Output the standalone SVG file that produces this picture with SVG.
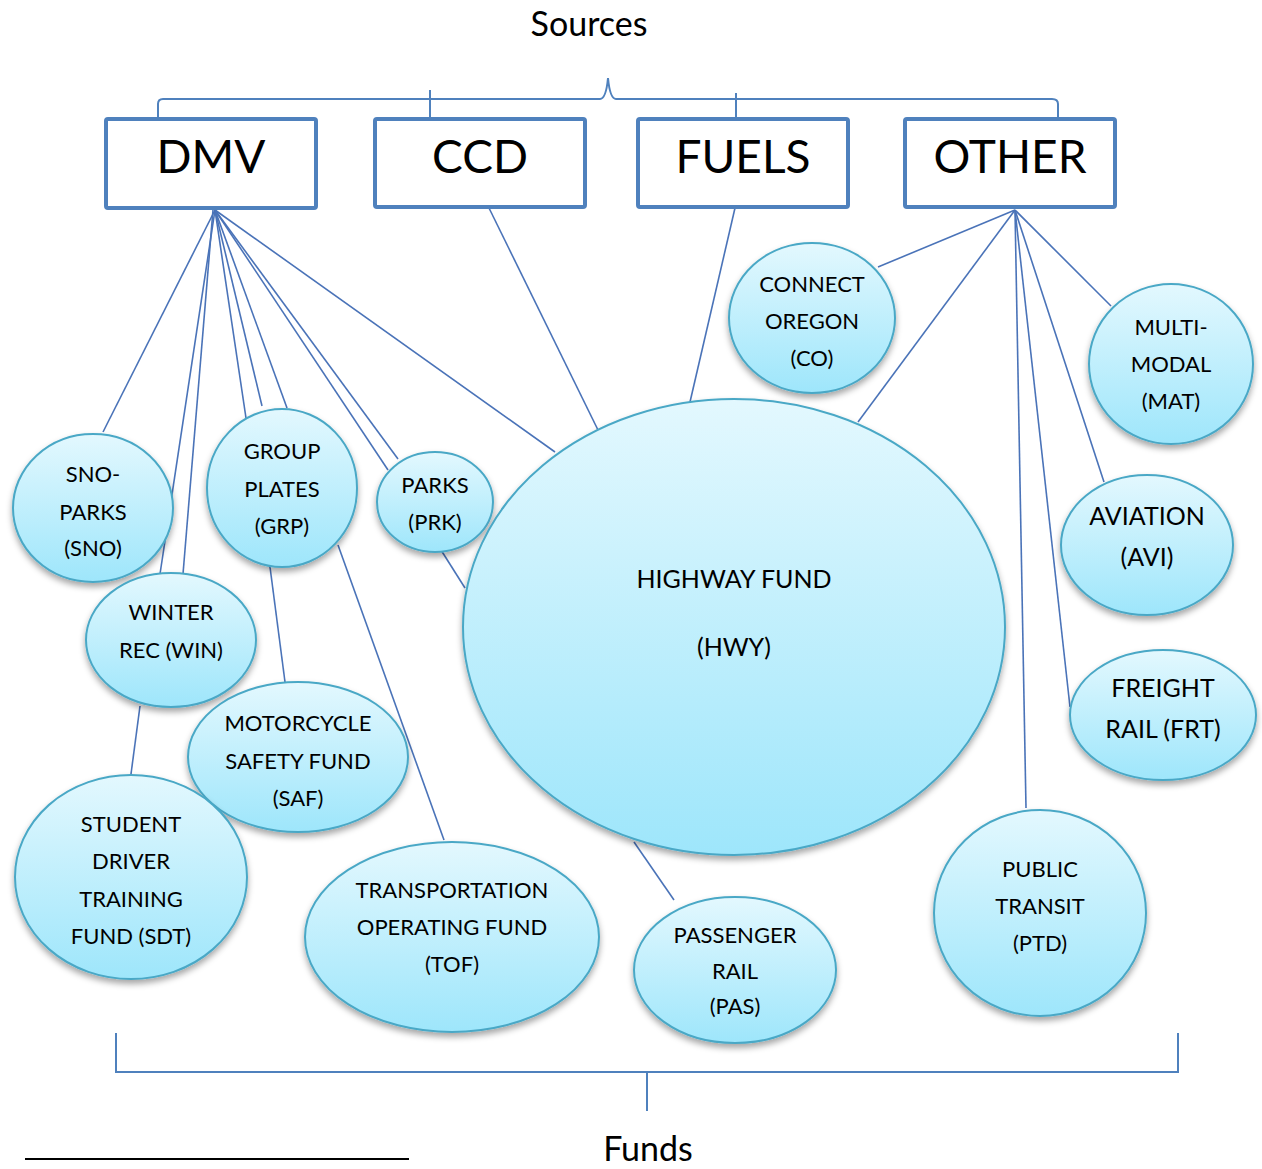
<svg xmlns="http://www.w3.org/2000/svg" width="1262" height="1169" viewBox="0 0 1262 1169">
<style>
text{font-family:Lato,"Open Sans","Liberation Sans",sans-serif;fill:#000;text-anchor:middle}
.t{font-size:22px}
.t2{font-size:25px}
.th{font-size:25px}
.big{font-size:46px}
.lbl{font-size:34px}
.box{fill:#fff;stroke:#4f81bd;stroke-width:4}
.c line{stroke:#4a73b8;stroke-width:1.6}
.br{fill:none;stroke:#4f81bd;stroke-width:2}
.n{fill:url(#g);stroke:#4aa8c6;stroke-width:2;filter:url(#sh)}
</style>
<defs>
<linearGradient id="g" x1="0" y1="0" x2="0" y2="1">
<stop offset="0" stop-color="#e3f8fe"/>
<stop offset="1" stop-color="#9ee6fb"/>
</linearGradient>
<filter id="sh" x="-20%" y="-20%" width="140%" height="150%">
<feDropShadow dx="0" dy="4" stdDeviation="3" flood-color="#000" flood-opacity="0.35"/>
</filter>
</defs>
<rect width="1262" height="1169" fill="#fff"/>
<text class="lbl" x="589" y="36">Sources</text>
<g id="brace-top">
<path class="br" d="M158,118 L158,104 Q158,99 163,99 L600,99 Q606,99 608,78 Q610,99 616,99 L1052,99 Q1058,99 1058,104 L1058,120"/>
<line class="br" x1="430" y1="90" x2="430" y2="118"/>
<line class="br" x1="736" y1="93" x2="736" y2="118"/>
</g>
<g class="c" id="connectors">
<line x1="215" y1="210" x2="103" y2="432"/>
<line x1="215" y1="210" x2="160" y2="574"/>
<line x1="213" y1="210" x2="183" y2="574"/>
<line x1="215" y1="210" x2="246" y2="418"/>
<line x1="215" y1="210" x2="262" y2="406"/>
<line x1="215" y1="210" x2="287" y2="408"/>
<line x1="215" y1="210" x2="388" y2="470"/>
<line x1="215" y1="210" x2="398" y2="459"/>
<line x1="215" y1="210" x2="555" y2="452"/>
<line x1="270" y1="567" x2="285" y2="682"/>
<line x1="338" y1="545" x2="444" y2="840"/>
<line x1="441" y1="550" x2="465" y2="588"/>
<line x1="140" y1="706" x2="131" y2="774"/>
<line x1="489" y1="208" x2="598" y2="430"/>
<line x1="735" y1="208" x2="690" y2="402"/>
<line x1="1015" y1="210" x2="878" y2="267"/>
<line x1="1015" y1="210" x2="858" y2="422"/>
<line x1="1015" y1="210" x2="1111" y2="306"/>
<line x1="1015" y1="210" x2="1104" y2="482"/>
<line x1="1015" y1="210" x2="1026" y2="808"/>
<line x1="1015" y1="210" x2="1070" y2="707"/>
<line x1="634" y1="842" x2="674" y2="900"/>
</g>
<g id="DMV"><rect class="box" x="106" y="119" width="210" height="89" rx="2"/><text class="big" x="211" y="173">DMV</text></g>
<g id="CCD"><rect class="box" x="375" y="119" width="210" height="88" rx="2"/><text class="big" x="480" y="173">CCD</text></g>
<g id="FUELS"><rect class="box" x="638" y="119" width="210" height="88" rx="2"/><text class="big" x="743" y="173">FUELS</text></g>
<g id="OTHER"><rect class="box" x="905" y="119" width="210" height="88" rx="2"/><text class="big" x="1010" y="173">OTHER</text></g>
<g id="SNO"><ellipse class="n" cx="93" cy="508" rx="80" ry="74"/><text class="t" x="93" y="482">SNO-</text><text class="t" x="93" y="520">PARKS</text><text class="t" x="93" y="556">(SNO)</text></g>
<g id="GRP"><ellipse class="n" cx="282" cy="488" rx="75" ry="79"/><text class="t" x="282" y="459">GROUP</text><text class="t" x="282" y="497">PLATES</text><text class="t" x="282" y="534">(GRP)</text></g>
<g id="PRK"><ellipse class="n" cx="435" cy="502" rx="58" ry="50"/><text class="t" x="435" y="493">PARKS</text><text class="t" x="435" y="530">(PRK)</text></g>
<g id="WIN"><ellipse class="n" cx="171" cy="640" rx="85" ry="67"/><text class="t" x="171" y="620">WINTER</text><text class="t" x="171" y="658">REC (WIN)</text></g>
<g id="SAF"><ellipse class="n" cx="298" cy="757" rx="110" ry="75"/><text class="t" x="298" y="731">MOTORCYCLE</text><text class="t" x="298" y="769">SAFETY FUND</text><text class="t" x="298" y="806">(SAF)</text></g>
<g id="SDT"><ellipse class="n" cx="131" cy="877" rx="116" ry="102"/><text class="t" x="131" y="832">STUDENT</text><text class="t" x="131" y="869">DRIVER</text><text class="t" x="131" y="907">TRAINING</text><text class="t" x="131" y="944">FUND (SDT)</text></g>
<g id="TOF"><ellipse class="n" cx="452" cy="937" rx="147" ry="95"/><text class="t" x="452" y="898">TRANSPORTATION</text><text class="t" x="452" y="935">OPERATING FUND</text><text class="t" x="452" y="972">(TOF)</text></g>
<g id="HWY"><ellipse class="n" cx="734" cy="627" rx="271" ry="228"/><text class="th" x="734" y="588">HIGHWAY FUND</text><text class="th" x="734" y="656">(HWY)</text></g>
<g id="PAS"><ellipse class="n" cx="735" cy="970" rx="101" ry="73"/><text class="t" x="735" y="943">PASSENGER</text><text class="t" x="735" y="979">RAIL</text><text class="t" x="735" y="1014">(PAS)</text></g>
<g id="CO"><ellipse class="n" cx="812" cy="318" rx="83" ry="75"/><text class="t" x="812" y="292">CONNECT</text><text class="t" x="812" y="329">OREGON</text><text class="t" x="812" y="366">(CO)</text></g>
<g id="MAT"><ellipse class="n" cx="1171" cy="364" rx="82" ry="80"/><text class="t" x="1171" y="335">MULTI-</text><text class="t" x="1171" y="372">MODAL</text><text class="t" x="1171" y="409">(MAT)</text></g>
<g id="AVI"><ellipse class="n" cx="1147" cy="545" rx="86" ry="70"/><text class="t2" x="1147" y="525">AVIATION</text><text class="t2" x="1147" y="566">(AVI)</text></g>
<g id="FRT"><ellipse class="n" cx="1163" cy="715" rx="93" ry="65"/><text class="t2" x="1163" y="697">FREIGHT</text><text class="t2" x="1163" y="738">RAIL (FRT)</text></g>
<g id="PTD"><ellipse class="n" cx="1040" cy="913" rx="106" ry="103"/><text class="t" x="1040" y="877">PUBLIC</text><text class="t" x="1040" y="914">TRANSIT</text><text class="t" x="1040" y="951">(PTD)</text></g>
<g id="brace-bottom">
<path class="br" d="M116,1033 L116,1072 L1178,1072 L1178,1033"/>
<line class="br" x1="647" y1="1072" x2="647" y2="1111"/>
</g>
<text class="lbl" x="648" y="1161">Funds</text>
<line x1="25" y1="1159" x2="409" y2="1159" stroke="#000" stroke-width="2"/>
</svg>
